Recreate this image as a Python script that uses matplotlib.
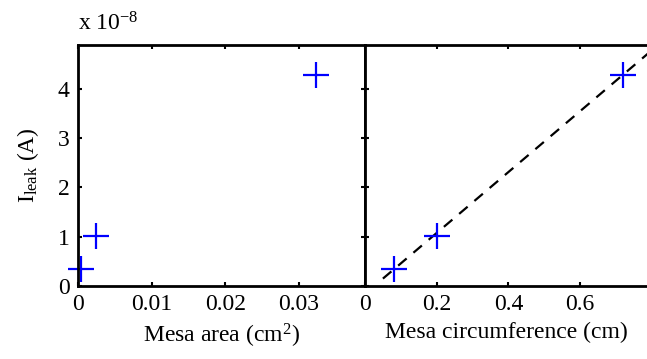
"""
Leakage current vs mesa area and mesa circumference (two panels sharing the y axis).
"""
import matplotlib
matplotlib.use('Agg')
import matplotlib.pyplot as plt

# data (current in units of 1e-8 A)
mesa_area = [0.0004, 0.0025, 0.0324]      # cm^2
mesa_circ = [0.08, 0.2, 0.72]             # cm
i_leak = [0.34, 1.02, 4.28]               # x 1e-8 A

# linear fit drawn in the right panel (end points)
fit_x = [0.05, 0.80]
fit_y = [0.15, 4.78]

plt.rcParams['font.family'] = 'Liberation Serif'
plt.rcParams['mathtext.fontset'] = 'custom'
plt.rcParams['mathtext.rm'] = 'Liberation Serif'
plt.rcParams['mathtext.it'] = 'Liberation Serif:italic'
plt.rcParams['font.size'] = 17

W, H = 647, 359
fig = plt.figure(figsize=(W / 100, H / 100), dpi=100)

x0, x1, x2 = 78, 365, 647
yb, yt = 286, 45
ax1 = fig.add_axes([x0 / W, (H - yb) / H, (x1 - x0) / W, (yb - yt) / H])
ax2 = fig.add_axes([x1 / W, (H - yb) / H, (x2 - x1) / W, (yb - yt) / H])

ylim = (0, 4.89)

# left: area
ax1.plot(mesa_area, i_leak, '+', color='#0000ff', markersize=19, markeredgewidth=1.6,
         clip_on=False)
ax1.set_xlim(0, 0.039)
ax1.set_ylim(*ylim)
ax1.set_xticks([0, 0.01, 0.02, 0.03])
ax1.set_xticklabels(['0', '0.01', '0.02', '0.03'])
ax1.set_yticks([0, 1, 2, 3, 4])
ax1.set_xlabel(r'Mesa area (cm$^2$)', labelpad=5)
ax1.set_ylabel(r'I$_{\mathrm{leak}}$ (A)', labelpad=12)
ax1.text(0, 1.04, r'x 10$^{-8}$', transform=ax1.transAxes, ha='left', va='bottom')

# right: circumference
ax2.plot(fit_x, fit_y, '--', color='black', linewidth=1.6, dashes=(5, 4))
ax2.plot(mesa_circ, i_leak, '+', color='#0000ff', markersize=19, markeredgewidth=1.6,
         clip_on=False)
ax2.set_xlim(0, 0.787)
ax2.set_ylim(*ylim)
ax2.set_xticks([0, 0.2, 0.4, 0.6])
ax2.set_xticklabels(['0', '0.2', '0.4', '0.6'])
ax2.set_yticks([0, 1, 2, 3, 4])
ax2.set_yticklabels([])
ax2.set_xlabel('Mesa circumference (cm)', labelpad=5)
ax2.spines['right'].set_visible(False)

for ax in (ax1, ax2):
    for s in ax.spines.values():
        s.set_linewidth(2.0)
    ax.tick_params(direction='in', length=3, width=1.5, top=True, right=True, pad=6)
ax2.tick_params(right=False)

fig.savefig('out.png', dpi=100)
